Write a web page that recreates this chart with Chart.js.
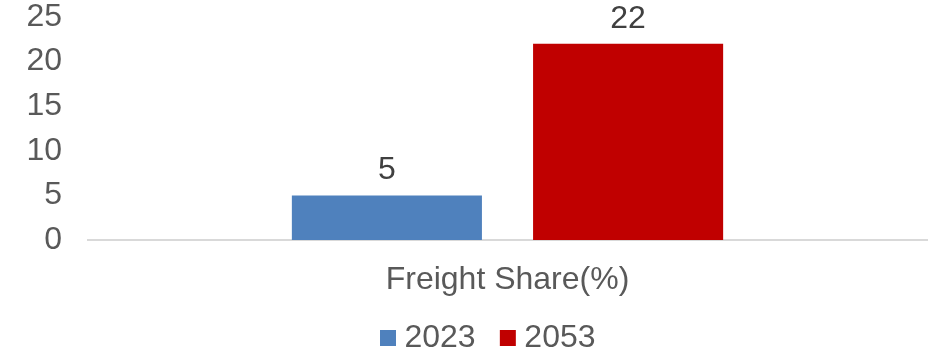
<!DOCTYPE html>
<html>
<head>
<meta charset="utf-8">
<script src="https://cdn.jsdelivr.net/npm/chart.js@4/dist/chart.umd.min.js"></script>
<style>
  html, body { margin: 0; padding: 0; background: #fff; }
  #wrap { width: 928px; height: 358px; }
</style>
</head>
<body>
<div id="wrap"><canvas id="freightChart"></canvas></div>
<script>
const categories = ['Freight Share(%)'];
const seriesNames = ['2023', '2053'];
const values2023 = [5];
const values2053 = [22];
const seriesColors = ['#4F81BD', '#C00000'];
const yTicks = [0, 5, 10, 15, 20, 25];

const FONT_SIZE = 32;

// draws the value above each bar
const valueLabels = {
    id: 'valueLabels',
    afterDatasetsDraw(chart) {
        const ctx = chart.ctx;
        ctx.save();
        ctx.font = FONT_SIZE + 'px "Liberation Sans", Arial, sans-serif';
        ctx.fillStyle = '#404040';
        ctx.textAlign = 'center';
        ctx.textBaseline = 'alphabetic';
        chart.data.datasets.forEach((ds, i) => {
            chart.getDatasetMeta(i).data.forEach((bar, j) => {
                ctx.fillText(ds.data[j], bar.x, bar.y - 16);
            });
        });
        ctx.restore();
    }
};

// legend in the original sits a bit right of centre and lower
const legendShift = {
    id: 'legendShift',
    afterLayout(chart) {
        const lg = chart.legend;
        if (!lg) return;
        lg.left += 18;
        lg.right += 18;
        lg.top += 6;
        lg.bottom += 6;
    }
};

Chart.defaults.font.family = '"Liberation Sans", Arial, sans-serif';
Chart.defaults.color = '#595959';

new Chart(document.getElementById('freightChart').getContext('2d'), {
    type: 'bar',
    data: {
        labels: categories,
        datasets: [
            { label: seriesNames[0], data: values2023, backgroundColor: seriesColors[0] },
            { label: seriesNames[1], data: values2053, backgroundColor: seriesColors[1] }
        ]
    },
    options: {
        responsive: true,
        maintainAspectRatio: false,
        animation: false,
        categoryPercentage: 0.575,
        barPercentage: 0.788,
        layout: { padding: { left: 20, right: 1, top: 0, bottom: 0 } },
        scales: {
            y: {
                min: 0,
                max: 25,
                afterBuildTicks: axis => { axis.ticks = yTicks.map(v => ({ value: v })); },
                afterFit: scale => { scale.width = 68; scale.paddingTop = 17; scale.paddingBottom = 0; },
                grid: { display: false },
                border: { display: false },
                ticks: { font: { size: FONT_SIZE, lineHeight: 1 }, color: '#595959', padding: 18, autoSkip: false }
            },
            x: {
                grid: { display: false },
                border: { color: '#D9D9D9', width: 2 },
                ticks: { font: { size: FONT_SIZE }, color: '#595959', padding: 13, autoSkip: false, maxRotation: 0 },
                afterFit: scale => { scale.height = 71; }
            }
        },
        plugins: {
            legend: {
                position: 'bottom',
                labels: {
                    font: { size: FONT_SIZE, lineHeight: 1 },
                    color: '#595959',
                    usePointStyle: true,
                    pointStyle: 'rect',
                    boxWidth: 1,
                    boxHeight: 16,
                    padding: 5,
                    generateLabels: chart => {
                        const items = Chart.defaults.plugins.legend.labels.generateLabels(chart);
                        // widen all but the last entry to space the legend items
                        items.forEach((it, i) => { if (i < items.length - 1) it.text = it.text + '   '; });
                        return items;
                    }
                }
            },
            tooltip: { enabled: false }
        }
    },
    plugins: [valueLabels, legendShift]
});
</script>
</body>
</html>
